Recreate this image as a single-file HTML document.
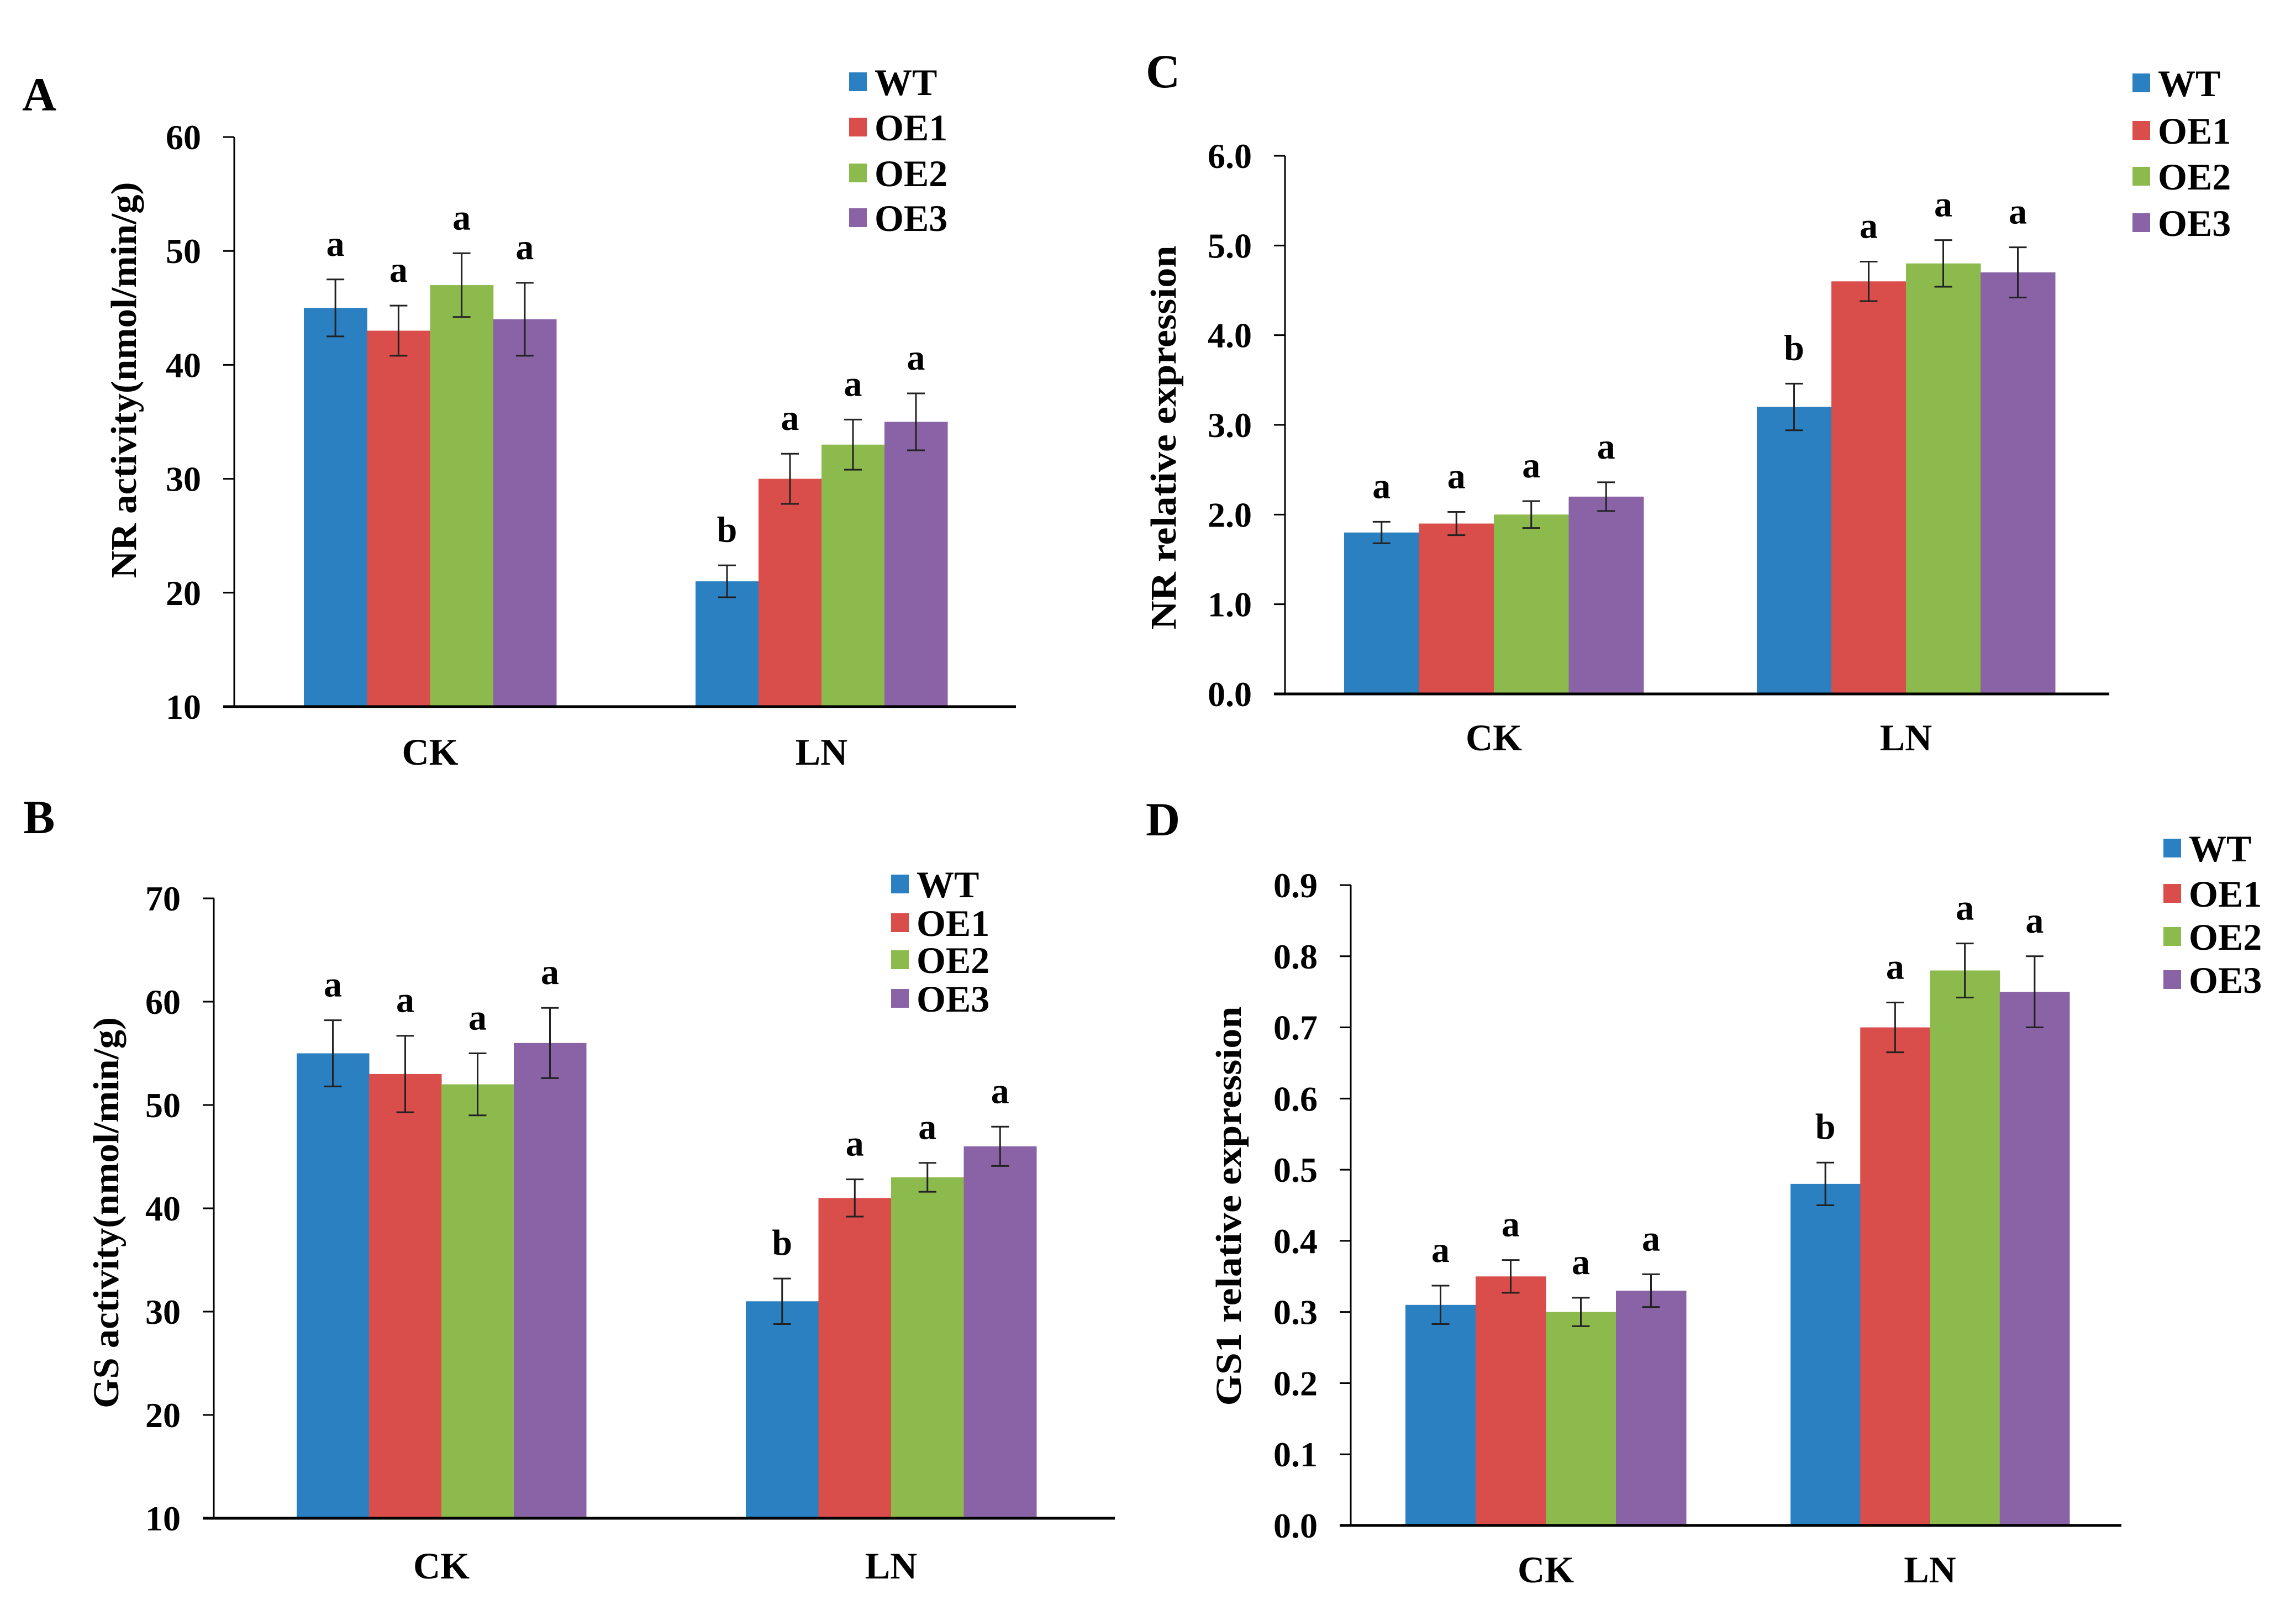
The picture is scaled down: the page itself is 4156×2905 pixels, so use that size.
<!DOCTYPE html>
<html><head><meta charset="utf-8">
<style>
html,body{margin:0;padding:0;background:#fff;}
svg{display:block;font-family:"Liberation Serif","DejaVu Serif",serif;font-weight:bold;}
</style></head>
<body>
<svg id="fig" width="4156" height="2905" viewBox="0 0 4156 2905" xmlns="http://www.w3.org/2000/svg">
<rect width="4156" height="2905" fill="#fff"/>
</svg>
<script>
const series = ["WT","OE1","OE2","OE3"];
const colors = ["#2A80C0","#D94D4B","#8DBA4C","#8963A6"];
const categories = ["CK","LN"];

const aValues = [[45,43,47,44],[21,30,33,35]];
const aErrors = [[2.5,2.2,2.8,3.2],[1.4,2.2,2.2,2.5]];
const aLetters = [["a","a","a","a"],["b","a","a","a"]];
const aTicks = ["10","20","30","40","50","60"];

const bValues = [[55,53,52,56],[31,41,43,46]];
const bErrors = [[3.2,3.7,3.0,3.4],[2.2,1.8,1.4,1.9]];
const bLetters = [["a","a","a","a"],["b","a","a","a"]];
const bTicks = ["10","20","30","40","50","60","70"];

const cValues = [[1.8,1.9,2.0,2.2],[3.2,4.6,4.8,4.7]];
const cErrors = [[0.12,0.13,0.15,0.16],[0.26,0.22,0.26,0.28]];
const cLetters = [["a","a","a","a"],["b","a","a","a"]];
const cTicks = ["0.0","1.0","2.0","3.0","4.0","5.0","6.0"];

const dValues = [[0.31,0.35,0.30,0.33],[0.48,0.70,0.78,0.75]];
const dErrors = [[0.027,0.023,0.020,0.023],[0.030,0.035,0.038,0.050]];
const dLetters = [["a","a","a","a"],["b","a","a","a"]];
const dTicks = ["0.0","0.1","0.2","0.3","0.4","0.5","0.6","0.7","0.8","0.9"];

const NS = "http://www.w3.org/2000/svg";
const svg = document.getElementById("fig");
function mk(tag, attrs, parent){
  const e = document.createElementNS(NS, tag);
  for (const k in attrs) e.setAttribute(k, attrs[k]);
  (parent||svg).appendChild(e);
  return e;
}

function panel(p, values, errors, letters, ticks){
  const g = mk("g", {});
  
  
  const ymin = parseFloat(ticks[0]), ymax = parseFloat(ticks[ticks.length-1]);
  const yS = v => p.yBot - (v - ymin) / (ymax - ymin) * (p.yBot - p.yTop);

  const t = mk("text", {x:p.titleX, y:p.titleY, "font-size":86}, g);
  t.textContent = p.id;
  
  

  // y ticks
  ticks.forEach(tk => {
    const y = yS(parseFloat(tk));
    const l = mk("line", {x1:p.ax-20, x2:p.ax, y1:y, y2:y, stroke:"#000", "stroke-width":3}, g);
    
    
    const tx = mk("text", {x:p.ax-60, y:y+22, "font-size":64, "text-anchor":"end"}, g);
    tx.textContent = tk;
    
    
  });

  // bars
  categories.forEach((cat, ci) => {
    const gs = p.groups[ci][0], ge = p.groups[ci][1];
    const bw = (ge - gs) / series.length;
    series.forEach((s, si) => {
      const v = values[ci][si], e = errors[ci][si];
      const x = gs + si * bw, y = yS(v);
      const r = mk("rect", {x:x, y:y, width:bw+0.5, height:p.yBot - y, fill:colors[si]}, g);
      
      
      const cx = x + bw/2, yt = yS(v+e), yb = yS(v-e);
      const eb = mk("path", {d:`M${cx},${yt}V${yb}M${cx-16},${yt}H${cx+16}M${cx-16},${yb}H${cx+16}`, stroke:"#222", "stroke-width":3, fill:"none"}, g);
      
      
      const lt = mk("text", {x:cx, y:yt-43, "font-size":66, "text-anchor":"middle"}, g);
      lt.textContent = letters[ci][si];
      
      
    });
    const cl = mk("text", {x:(gs+ge)/2, y:p.catY, "font-size":68, "text-anchor":"middle"}, g);
    cl.textContent = cat;
    
    
  });

  const ya = mk("line", {x1:p.ax, x2:p.ax, y1:p.yTop, y2:p.yBot, stroke:"#000", "stroke-width":3}, g);
  
  
  const xa = mk("line", {x1:p.ax-20, x2:p.axEnd, y1:p.yBot, y2:p.yBot, stroke:"#000", "stroke-width":5}, g);
  
  

  const yt = mk("text", {x:0, y:0, "font-size":66, "text-anchor":"middle", textLength:p.ytLen, lengthAdjust:"spacingAndGlyphs",
    transform:`translate(${p.ytX},${p.ytY}) rotate(-90)`}, g);
  yt.textContent = p.ytitle;
  
  

  // legend
  series.forEach((s, si) => {
    const cy = p.legY[si];
    const lg = mk("g", {}, g);
    
    
    mk("rect", {x:p.legX, y:cy-17, width:32, height:34, fill:colors[si]}, lg);
    const lt = mk("text", {x:p.legX+46, y:cy+24, "font-size":68}, lg);
    lt.textContent = s;
  });
}

panel({id:"A", titleX:40, titleY:200, ax:424, axEnd:1839, yTop:248, yBot:1279,
  groups:[[550,1007],[1259,1715]], catY:1384, ytitle:"NR activity(nmol/min/g)", ytX:246, ytY:688, ytLen:717,
  legX:1537, legY:[148,230,313,394]}, aValues, aErrors, aLetters, aTicks);

panel({id:"B", titleX:42, titleY:1508, ax:387, axEnd:2018, yTop:1626, yBot:2748,
  groups:[[537,1061],[1350,1876]], catY:2857, ytitle:"GS activity(nmol/min/g)", ytX:214, ytY:2195, ytLen:708,
  legX:1613, legY:[1600,1670,1737,1807]}, bValues, bErrors, bLetters, bTicks);

panel({id:"C", titleX:2074, titleY:158, ax:2326, axEnd:3818, yTop:282, yBot:1256,
  groups:[[2433,2975],[3180,3720]], catY:1358, ytitle:"NR  relative expression", ytX:2128, ytY:792, ytLen:695,
  legX:3860, legY:[150,236,319,403]}, cValues, cErrors, cLetters, cTicks);

panel({id:"D", titleX:2074, titleY:1512, ax:2445, axEnd:3840, yTop:1602, yBot:2761,
  groups:[[2544,3052],[3241,3746]], catY:2864, ytitle:"GS1  relative expression", ytX:2246, ytY:2183, ytLen:723,
  legX:3916, legY:[1535,1617,1695,1773]}, dValues, dErrors, dLetters, dTicks);
</script>
</body></html>
